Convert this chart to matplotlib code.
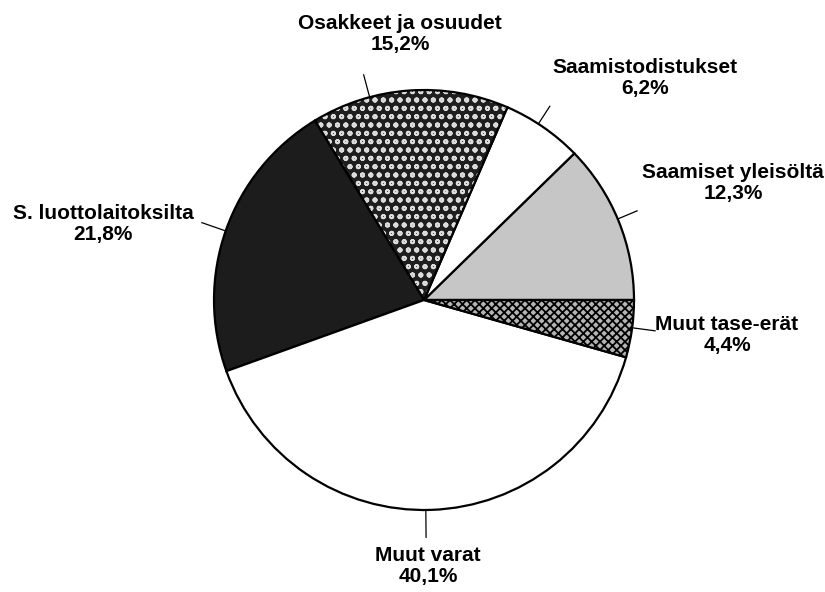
import matplotlib
matplotlib.use("Agg")
import matplotlib.pyplot as plt
import matplotlib.colors as mcolors
import numpy as np

labels = ["Saamiset yleisöltä", "Saamistodistukset", "Osakkeet ja osuudet",
          "S. luottolaitoksilta", "Muut varat", "Muut tase-erät"]
values = [12.3, 6.2, 15.2, 21.8, 40.1, 4.4]
pct_text = ["12,3%", "6,2%", "15,2%", "21,8%", "40,1%", "4,4%"]

facecolors = ["#c6c6c6", "white", "#1e1e1e", "#1c1c1c", "white", "#b4b4b4"]
hatches = [None, None, "oo", None, None, "xxxx"]
hatchcolors = ["black", "black", "#dcdcdc", "black", "black", "black"]

# label positions in pixels (layout)
label_px = [(733, 183), (645, 78), (400, 34), (103, 224), (428, 566), (727, 335)]
leader_ang = [22.7, 57.0, 105.0, 160.8, -89.5, -7.6]
leader_len = [1.10, 1.10, 1.11, 1.12, 1.13, 1.11]

W, H = 825, 592
fig = plt.figure(figsize=(W / 100, H / 100), dpi=100)
cx, cy, R = 424, 300, 210
ax = fig.add_axes([(cx - R) / W, (H - cy - R) / H, 2 * R / W, 2 * R / H])
ax.axis("off")

plt.rcParams["hatch.linewidth"] = 1.3
wedges, _ = ax.pie(values, startangle=0, counterclock=True, radius=1,
                   wedgeprops=dict(edgecolor="black", linewidth=1.6))
ax.set_xlim(-1, 1)
ax.set_ylim(-1, 1)
ax.set_aspect("equal")
for w, fc, h, hc in zip(wedges, facecolors, hatches, hatchcolors):
    w.set_facecolor(fc)
    if h:
        w.set_hatch(h)
        w._hatch_color = mcolors.to_rgba(hc)

for a, L in zip(leader_ang, leader_len):
    t = np.deg2rad(a)
    ax.plot([np.cos(t), L * np.cos(t)], [np.sin(t), L * np.sin(t)],
            color="black", lw=0.9, clip_on=False)

for lab, p, (px, py) in zip(labels, pct_text, label_px):
    fig.text(px / W, 1 - py / H, lab + "\n" + p, ha="center", va="center",
             fontsize=15, fontfamily="Liberation Sans", fontweight="bold",
             linespacing=1.1)

fig.savefig("out.png", dpi=100)
